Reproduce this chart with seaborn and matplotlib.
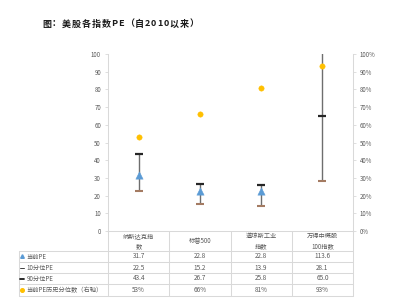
import numpy as np
import pandas as pd
import matplotlib
matplotlib.use("Agg")
import matplotlib.pyplot as plt
import matplotlib.transforms as mtransforms
from matplotlib.ticker import PercentFormatter
import seaborn as sns

# ---------------- data ----------------
categories = ["纳斯达克指数", "标普500", "道琼斯工业指数", "万得中概股100指数"]
header_labels = ["纳斯达克指\n数", "标普500", "道琼斯工业\n指数", "万得中概股\n100指数"]
current_pe = [31.7, 22.8, 22.8, 113.6]
pe_p10 = [22.5, 15.2, 13.9, 28.1]
pe_p90 = [43.4, 26.7, 25.8, 65.0]
pe_pct = [0.53, 0.66, 0.81, 0.93]
row_labels = ["当前PE", "10分位PE", "90分位PE", "当前PE历史分位数（右轴）"]
left_ticks = list(range(0, 101, 10))
right_ticks = [i / 10 for i in range(0, 11)]
title = "图：美股各指数PE（自2010以来）"

sns.set_theme(style="white")
plt.rcParams['font.family'] = ['Noto Sans CJK SC', 'DejaVu Sans']

GRID = "#d9d9d9"
TXT = "#595959"
BLUE = "#5B9BD5"
GOLD = "#FFC000"
BROWN = "#A47B62"
LINE = "#6e6e6e"

df = pd.DataFrame({
    "cat": categories,
    "pos": np.arange(len(categories)),
    "cur": current_pe,
    "p10": pe_p10,
    "p90": pe_p90,
    "pct": pe_pct,
})
df["lo"] = df[["p10", "cur"]].min(axis=1)
df["hi"] = df[["p90", "cur"]].max(axis=1)

W, H = 394, 301
fig = plt.figure(figsize=(W / 100, H / 100), dpi=100)
fig.patch.set_facecolor("white")

ax = fig.add_axes([108 / W, (H - 231) / H, 245 / W, 177 / H])
ax.set_facecolor("none")
ax2 = ax.twinx()

# high-low lines
ax.vlines(df["pos"], df["lo"], df["hi"], color=LINE, lw=1.0, zorder=2)
# 90th / 10th percentile dashes
ax.scatter(df["pos"], df["p90"], marker="_", s=36, linewidths=1.6, color="#262626", zorder=3)
ax.scatter(df["pos"], df["p10"], marker="_", s=36, linewidths=1.5, color=BROWN, zorder=3)
# current PE triangles
sns.scatterplot(data=df, x="pos", y="cur", marker="^", s=28, color=BLUE,
                edgecolor=BLUE, linewidth=0.3, ax=ax, zorder=4, legend=False)
# percentile dots (right axis)
sns.scatterplot(data=df, x="pos", y="pct", marker="o", s=15, color=GOLD,
                edgecolor=GOLD, linewidth=0.3, ax=ax2, zorder=4, legend=False)

for a in (ax, ax2):
    a.set_xlim(-0.5, len(categories) - 0.5)
    a.set_xlabel("")
    a.set_ylabel("")
    a.set_xticks([])
    for s in a.spines.values():
        s.set_visible(False)

ax.set_ylim(0, 100)
ax.set_yticks(left_ticks)
ax2.set_ylim(0, 1)
ax2.set_yticks(right_ticks)
ax2.yaxis.set_major_formatter(PercentFormatter(1.0, decimals=0))

ax.spines["left"].set_visible(True)
ax.spines["left"].set_color(GRID)
ax.spines["bottom"].set_visible(True)
ax.spines["bottom"].set_color(GRID)
ax2.spines["right"].set_visible(True)
ax2.spines["right"].set_color(GRID)
for s in (ax.spines["left"], ax.spines["bottom"], ax2.spines["right"]):
    s.set_linewidth(0.75)

ax.tick_params(axis="y", direction="out", length=2.5, width=0.6, color=GRID,
               labelsize=4.4, labelcolor=TXT, pad=2.5, left=True)
ax2.tick_params(axis="y", direction="out", length=2.5, width=0.6, color=GRID,
                labelsize=4.4, labelcolor=TXT, pad=2.5, right=True)

# ---------------- table + title overlay ----------------
ax_t = fig.add_axes([0, 0, 1, 1])
ax_t.set_xlim(0, W)
ax_t.set_ylim(H, 0)
ax_t.axis("off")
ax_t.set_facecolor("none")

blend = mtransforms.blended_transform_factory(ax.transData, ax_t.transData)

row_edges = [231, 251, 262, 273, 284, 296]
x_left = 19
n = len(categories)
# horizontal lines
for y in row_edges[1:]:
    ax_t.plot([x_left, 108], [y, y], color=GRID, lw=0.75)
    ax_t.plot([-0.5, n - 0.5], [y, y], color=GRID, lw=0.75, transform=blend)
# vertical lines
ax_t.plot([x_left, x_left], [row_edges[1], row_edges[-1]], color=GRID, lw=0.75)
for i in range(n + 1):
    ax_t.plot([i - 0.5, i - 0.5], [row_edges[0], row_edges[-1]], color=GRID, lw=0.75,
              transform=blend)

# header labels
for i, lab in enumerate(header_labels):
    ax_t.text(i, (row_edges[0] + row_edges[1]) / 2, lab, ha="center", va="center",
              fontsize=4.5, color=TXT, linespacing=1.4, transform=blend)

# rows
rows_vals = [
    [f"{v:.1f}" for v in current_pe],
    [f"{v:.1f}" for v in pe_p10],
    [f"{v:.1f}" for v in pe_p90],
    [f"{round(v * 100):d}%" for v in pe_pct],
]
for r, (lab, vals) in enumerate(zip(row_labels, rows_vals)):
    yc = (row_edges[r + 1] + row_edges[r + 2]) / 2
    ax_t.text(26.5, yc, lab, ha="left", va="center", fontsize=4.5, color=TXT)
    for i, v in enumerate(vals):
        ax_t.text(i, yc, v, ha="center", va="center", fontsize=4.6, color=TXT, transform=blend)

# legend icons in table
icon_x = 22.5
yc = [(row_edges[k] + row_edges[k + 1]) / 2 for k in range(1, 5)]
ax_t.plot([icon_x], [yc[0] - 0.5], marker="^", ms=2.6, color=BLUE, mec=BLUE, ls="none")
ax_t.plot([icon_x - 2.5, icon_x + 1.5], [yc[1], yc[1]], color="#404040", lw=0.7)
ax_t.plot([icon_x - 2.5, icon_x + 1.5], [yc[2], yc[2]], color="#1a1a1a", lw=1.3)
ax_t.plot([icon_x], [yc[3]], marker="o", ms=2.6, color=GOLD, mec=GOLD, ls="none")

# title with letter spacing
renderer = fig.canvas.get_renderer()
x = 42
for ch in title:
    t = ax_t.text(x, 24, ch, ha="left", va="center", fontsize=6.5, fontweight="bold",
                  color="#1a1a1a")
    w = t.get_window_extent(renderer).width
    x += w + 0.9

fig.savefig("out.png", dpi=100, facecolor="white")
